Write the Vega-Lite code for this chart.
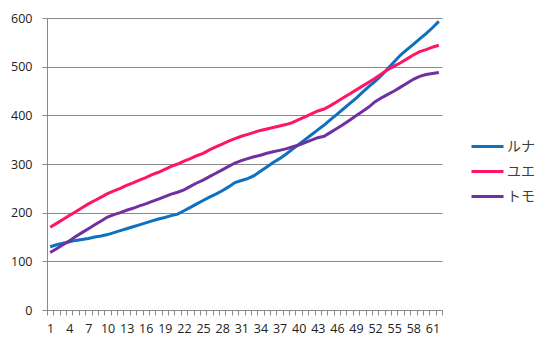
{
  "$schema": "https://vega.github.io/schema/vega-lite/v6.json",
  "width": 395,
  "height": 292,
  "autosize": {"type": "none"},
  "padding": {"left": 47, "top": 18, "right": 108, "bottom": 40},
  "background": "white",
  "config": {
    "view": {"stroke": null},
    "font": "Open Sans",
    "axis": {"labelFont": "Open Sans", "labelColor": "#222222", "labelFontSize": 12, "domainColor": "#8a8a8a", "tickColor": "#8a8a8a", "gridColor": "#8a8a8a", "gridWidth": 1, "domainWidth": 1, "tickWidth": 1}
  },
  "data": {"values": [
    {"x":1,"s":"ルナ","v":130},{"x":2,"s":"ルナ","v":134},{"x":3,"s":"ルナ","v":137},{"x":4,"s":"ルナ","v":140},{"x":5,"s":"ルナ","v":143},{"x":6,"s":"ルナ","v":145},{"x":7,"s":"ルナ","v":147},{"x":8,"s":"ルナ","v":150},{"x":9,"s":"ルナ","v":152},{"x":10,"s":"ルナ","v":155},
    {"x":11,"s":"ルナ","v":159},{"x":12,"s":"ルナ","v":163},{"x":13,"s":"ルナ","v":167},{"x":14,"s":"ルナ","v":171},{"x":15,"s":"ルナ","v":175},{"x":16,"s":"ルナ","v":179},{"x":17,"s":"ルナ","v":183},{"x":18,"s":"ルナ","v":187},{"x":19,"s":"ルナ","v":190},{"x":20,"s":"ルナ","v":194},
    {"x":21,"s":"ルナ","v":197},{"x":22,"s":"ルナ","v":204},{"x":23,"s":"ルナ","v":211},{"x":24,"s":"ルナ","v":218},{"x":25,"s":"ルナ","v":225},{"x":26,"s":"ルナ","v":232},{"x":27,"s":"ルナ","v":238},{"x":28,"s":"ルナ","v":245},{"x":29,"s":"ルナ","v":253},{"x":30,"s":"ルナ","v":262},
    {"x":31,"s":"ルナ","v":266},{"x":32,"s":"ルナ","v":270},{"x":33,"s":"ルナ","v":276},{"x":34,"s":"ルナ","v":285},{"x":35,"s":"ルナ","v":294},{"x":36,"s":"ルナ","v":303},{"x":37,"s":"ルナ","v":311},{"x":38,"s":"ルナ","v":320},{"x":39,"s":"ルナ","v":330},{"x":40,"s":"ルナ","v":340},
    {"x":41,"s":"ルナ","v":350},{"x":42,"s":"ルナ","v":360},{"x":43,"s":"ルナ","v":370},{"x":44,"s":"ルナ","v":380},{"x":45,"s":"ルナ","v":391},{"x":46,"s":"ルナ","v":402},{"x":47,"s":"ルナ","v":413},{"x":48,"s":"ルナ","v":424},{"x":49,"s":"ルナ","v":435},{"x":50,"s":"ルナ","v":447},
    {"x":51,"s":"ルナ","v":459},{"x":52,"s":"ルナ","v":470},{"x":53,"s":"ルナ","v":482},{"x":54,"s":"ルナ","v":496},{"x":55,"s":"ルナ","v":510},{"x":56,"s":"ルナ","v":524},{"x":57,"s":"ルナ","v":535},{"x":58,"s":"ルナ","v":546},{"x":59,"s":"ルナ","v":557},{"x":60,"s":"ルナ","v":568},
    {"x":61,"s":"ルナ","v":580},{"x":62,"s":"ルナ","v":593},
    {"x":1,"s":"ユエ","v":170},{"x":2,"s":"ユエ","v":178},{"x":3,"s":"ユエ","v":186},{"x":4,"s":"ユエ","v":194},{"x":5,"s":"ユエ","v":202},{"x":6,"s":"ユエ","v":210},{"x":7,"s":"ユエ","v":218},{"x":8,"s":"ユエ","v":225},{"x":9,"s":"ユエ","v":232},{"x":10,"s":"ユエ","v":239},
    {"x":11,"s":"ユエ","v":245},{"x":12,"s":"ユエ","v":250},{"x":13,"s":"ユエ","v":256},{"x":14,"s":"ユエ","v":261},{"x":15,"s":"ユエ","v":267},{"x":16,"s":"ユエ","v":272},{"x":17,"s":"ユエ","v":278},{"x":18,"s":"ユエ","v":283},{"x":19,"s":"ユエ","v":289},{"x":20,"s":"ユエ","v":295},
    {"x":21,"s":"ユエ","v":300},{"x":22,"s":"ユエ","v":306},{"x":23,"s":"ユエ","v":311},{"x":24,"s":"ユエ","v":317},{"x":25,"s":"ユエ","v":322},{"x":26,"s":"ユエ","v":329},{"x":27,"s":"ユエ","v":335},{"x":28,"s":"ユエ","v":341},{"x":29,"s":"ユエ","v":347},{"x":30,"s":"ユエ","v":352},
    {"x":31,"s":"ユエ","v":357},{"x":32,"s":"ユエ","v":361},{"x":33,"s":"ユエ","v":365},{"x":34,"s":"ユエ","v":369},{"x":35,"s":"ユエ","v":372},{"x":36,"s":"ユエ","v":375},{"x":37,"s":"ユエ","v":378},{"x":38,"s":"ユエ","v":381},{"x":39,"s":"ユエ","v":385},{"x":40,"s":"ユエ","v":391},
    {"x":41,"s":"ユエ","v":397},{"x":42,"s":"ユエ","v":403},{"x":43,"s":"ユエ","v":409},{"x":44,"s":"ユエ","v":413},{"x":45,"s":"ユエ","v":420},{"x":46,"s":"ユエ","v":428},{"x":47,"s":"ユエ","v":436},{"x":48,"s":"ユエ","v":444},{"x":49,"s":"ユエ","v":452},{"x":50,"s":"ユエ","v":460},
    {"x":51,"s":"ユエ","v":468},{"x":52,"s":"ユエ","v":476},{"x":53,"s":"ユエ","v":485},{"x":54,"s":"ユエ","v":494},{"x":55,"s":"ユエ","v":501},{"x":56,"s":"ユエ","v":508},{"x":57,"s":"ユエ","v":516},{"x":58,"s":"ユエ","v":524},{"x":59,"s":"ユエ","v":531},{"x":60,"s":"ユエ","v":535},
    {"x":61,"s":"ユエ","v":540},{"x":62,"s":"ユエ","v":544},
    {"x":1,"s":"トモ","v":118},{"x":2,"s":"トモ","v":126},{"x":3,"s":"トモ","v":134},{"x":4,"s":"トモ","v":142},{"x":5,"s":"トモ","v":151},{"x":6,"s":"トモ","v":159},{"x":7,"s":"トモ","v":167},{"x":8,"s":"トモ","v":175},{"x":9,"s":"トモ","v":183},{"x":10,"s":"トモ","v":191},
    {"x":11,"s":"トモ","v":196},{"x":12,"s":"トモ","v":200},{"x":13,"s":"トモ","v":205},{"x":14,"s":"トモ","v":209},{"x":15,"s":"トモ","v":214},{"x":16,"s":"トモ","v":218},{"x":17,"s":"トモ","v":223},{"x":18,"s":"トモ","v":228},{"x":19,"s":"トモ","v":233},{"x":20,"s":"トモ","v":238},
    {"x":21,"s":"トモ","v":242},{"x":22,"s":"トモ","v":247},{"x":23,"s":"トモ","v":254},{"x":24,"s":"トモ","v":261},{"x":25,"s":"トモ","v":267},{"x":26,"s":"トモ","v":274},{"x":27,"s":"トモ","v":281},{"x":28,"s":"トモ","v":288},{"x":29,"s":"トモ","v":295},{"x":30,"s":"トモ","v":302},
    {"x":31,"s":"トモ","v":307},{"x":32,"s":"トモ","v":311},{"x":33,"s":"トモ","v":315},{"x":34,"s":"トモ","v":318},{"x":35,"s":"トモ","v":322},{"x":36,"s":"トモ","v":325},{"x":37,"s":"トモ","v":328},{"x":38,"s":"トモ","v":331},{"x":39,"s":"トモ","v":335},{"x":40,"s":"トモ","v":339},
    {"x":41,"s":"トモ","v":344},{"x":42,"s":"トモ","v":349},{"x":43,"s":"トモ","v":354},{"x":44,"s":"トモ","v":357},{"x":45,"s":"トモ","v":365},{"x":46,"s":"トモ","v":373},{"x":47,"s":"トモ","v":381},{"x":48,"s":"トモ","v":390},{"x":49,"s":"トモ","v":399},{"x":50,"s":"トモ","v":408},
    {"x":51,"s":"トモ","v":417},{"x":52,"s":"トモ","v":428},{"x":53,"s":"トモ","v":436},{"x":54,"s":"トモ","v":443},{"x":55,"s":"トモ","v":450},{"x":56,"s":"トモ","v":458},{"x":57,"s":"トモ","v":466},{"x":58,"s":"トモ","v":474},{"x":59,"s":"トモ","v":480},{"x":60,"s":"トモ","v":484},
    {"x":61,"s":"トモ","v":486},{"x":62,"s":"トモ","v":488}
  ]},
  "resolve": {"axis": {"x": "independent"}},
  "layer": [
    {
      "mark": {"type": "point", "opacity": 0},
      "encoding": {
        "x": {"field": "x", "type": "quantitative", "scale": {"domain": [0.5, 62.5], "nice": false, "zero": false},
          "axis": {"orient": "bottom", "title": null, "labels": false, "grid": false, "domain": true, "ticks": true, "tickSize": 5,
            "values": [0.5,1.5,2.5,3.5,4.5,5.5,6.5,7.5,8.5,9.5,10.5,11.5,12.5,13.5,14.5,15.5,16.5,17.5,18.5,19.5,20.5,21.5,22.5,23.5,24.5,25.5,26.5,27.5,28.5,29.5,30.5,31.5,32.5,33.5,34.5,35.5,36.5,37.5,38.5,39.5,40.5,41.5,42.5,43.5,44.5,45.5,46.5,47.5,48.5,49.5,50.5,51.5,52.5,53.5,54.5,55.5,56.5,57.5,58.5,59.5,60.5,61.5,62.5]}},
        "y": {"field": "v", "type": "quantitative", "scale": {"domain": [0, 600], "nice": false},
          "axis": {"title": null, "values": [0,100,200,300,400,500,600], "grid": true, "tickSize": 5, "labelPadding": 10, "labelFontSize": 12.5}}
      }
    },
    {
      "mark": {"type": "line", "strokeWidth": 3},
      "encoding": {
        "x": {"field": "x", "type": "quantitative", "scale": {"domain": [0.5, 62.5], "nice": false, "zero": false},
          "axis": {"orient": "bottom", "title": null, "domain": false, "ticks": false, "grid": false, "labelPadding": 12, "labelFlush": false, "labelOverlap": false, "labelFontSize": 12.5,
            "values": [1,4,7,10,13,16,19,22,25,28,31,34,37,40,43,46,49,52,55,58,61]}},
        "y": {"field": "v", "type": "quantitative"},
        "color": {"field": "s", "type": "nominal", "sort": ["ルナ", "ユエ", "トモ"],
          "scale": {"domain": ["ルナ", "ユエ", "トモ"], "range": ["#0F70BF", "#FF1466", "#7030A0"]},
          "legend": {"title": null, "orient": "none", "legendX": 423, "legendY": 111, "symbolType": "stroke", "symbolSize": 1024, "symbolStrokeWidth": 3,
            "labelFont": "Noto Sans CJK JP", "labelFontSize": 14, "labelColor": "#404040", "labelOffset": 2, "rowPadding": 0}}
      }
    }
  ]
}
